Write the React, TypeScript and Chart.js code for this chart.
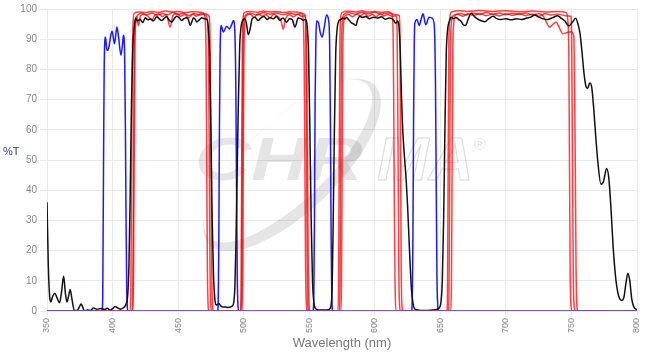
import { useEffect, useRef } from 'react';
import { Chart, registerables } from 'chart.js';

Chart.register(...registerables);

// ---- Data (wavelength nm, %T) ----
const xTicksMin = 350;
const xTicksMax = 800;
const yTicksMax = 100;

const blackCurve: [number, number][] = [
  [350, 36], [351, 15], [352, 5], [353, 3], [354, 4.5], [356, 5.8], [358, 4], [359.6, 2.7], [361, 6], [362.7, 11.5],
  [364, 6], [365.2, 3], [366.5, 5], [367.7, 7.1], [369, 4], [370.8, 0.3], [373, 0.2], [374.5, 1.2], [376, 2.3], [377.5, 1],
  [378.4, 0], [381, 0.3], [383, 0.2], [385.6, 1], [388, 0.6], [391, 0.8], [394, 0.5], [396, 0.9], [398, 0.3], [400, 0.8],
  [402, 1.5], [404, 1], [406, 0.6], [408, 1], [410, 2], [411.5, 5], [412.5, 15], [413.5, 40], [414.5, 70], [415.5, 88],
  [416.5, 94], [417.5, 96.9], [419, 96], [421, 96.6], [423, 95.5], [424.9, 97.1], [427, 96.4], [429, 96.8], [431, 96],
  [433.8, 97.4], [435.5, 96.8], [437.6, 96.2], [439.5, 97], [441.4, 97.4], [443, 96.4], [445.2, 95.7], [447, 96.8],
  [449, 97.6], [451, 97], [452.8, 96.2], [454.5, 96.8], [456.6, 97.1], [458, 96.3], [459.1, 94.5], [460.5, 95.8],
  [461.7, 97.1], [463, 96.6], [464.2, 95.7], [466, 96.3], [468, 97.1], [470, 96.8], [471.9, 96.6], [473, 94], [474, 85],
  [475, 60], [476, 30], [477, 12], [478, 4], [479, 2], [480, 2.2], [481, 2.5], [482, 2], [483, 1.5], [484, 1.3], [486, 1.3],
  [488, 1.2], [490, 1.3], [491.5, 1.8], [492.5, 3], [493.3, 8], [494, 20], [495, 45], [496, 70], [497, 88], [498, 94],
  [499, 96], [500.5, 96.8], [502, 95.5], [503.5, 91.5], [505, 93.5], [506.5, 96.8], [508.5, 97.3], [511, 96.2], [513, 97],
  [515.5, 97.5], [518, 96.5], [520, 97.2], [522.5, 96.8], [525, 97.5], [527.5, 96.3], [530, 97], [532.7, 95.6], [535, 96.8],
  [537, 96.5], [539.1, 94], [541.6, 97], [543.5, 96.8], [545.5, 96.3], [547, 96.5], [548.5, 94], [549.5, 85], [550.5, 60],
  [551.5, 30], [552.5, 10], [553.5, 3], [554.5, 1], [556, 0.5], [558, 0.3], [562, 0.3], [565, 0.5], [566.5, 1.5],
  [567.5, 8], [568.3, 30], [569.2, 60], [570.2, 85], [571.2, 93], [572.5, 96], [574, 96.5], [575.5, 97], [577.2, 96.7],
  [578.5, 97.3], [580, 96.5], [582, 95.5], [584, 95], [585.6, 94.5], [587, 96.5], [588.6, 97.6], [590.5, 97.2], [593, 97.5],
  [596, 96.8], [599, 97.3], [602, 97], [605, 97.4], [608, 96.6], [611, 97], [614, 96.5], [616, 95.3], [617.5, 96],
  [618.5, 94], [619.5, 85], [620.3, 72], [621, 63], [622, 55], [623, 49], [624, 43], [625, 35], [626, 25], [627, 15],
  [628, 7], [629, 3], [630, 1], [632, 0.4], [636, 0.2], [640, 0.2], [644, 0.3], [647, 0.5], [649, 1], [650.5, 3],
  [651.5, 10], [652.5, 30], [653.5, 60], [654.5, 85], [655.5, 93], [657, 96], [658.4, 97.3], [660, 96.8], [662, 97.2],
  [664, 96.5], [666, 95.8], [667.5, 94.8], [669.3, 94.5], [671, 96.3], [673.6, 98.6], [676, 97.5], [678, 96.8], [680, 96.3],
  [683.8, 95.8], [687, 96.8], [690.2, 97.6], [693, 96.8], [696, 96.5], [700, 96.8], [704, 96.4], [708, 96.8], [712, 96.5],
  [716, 97], [719, 97.3], [722, 98], [725, 97.3], [728, 96.8], [731, 96.5], [733.3, 96.7], [736, 97.2], [739.5, 97.8],
  [742, 97], [745, 96], [748, 94.4], [750.5, 95.5], [753.2, 96.9], [755, 95], [756.5, 92], [758, 86], [759.5, 79],
  [761, 74.5], [762.3, 73.7], [764, 75.5], [765.5, 74], [767, 67], [768.5, 58], [770, 50], [772.5, 42], [774.5, 43],
  [776.8, 47.2], [778.5, 44], [780, 35], [782, 20], [784, 10], [786.6, 4.2], [788.5, 3.5], [790, 4.5], [791.5, 9],
  [793, 12.4], [794.5, 10], [796, 4], [798, 1], [800, 0.5],
];

const blueCurve: [number, number][] = [
  [350, 0], [392, 0], [392.5, 5], [393, 40], [393.6, 80], [394.6, 90.7], [395.5, 87], [396.2, 86.3], [397.5, 88],
  [398.5, 91], [399.7, 92.6], [401.5, 88.5], [403.3, 94], [404.5, 91], [406.4, 84.7], [407.5, 88], [408.3, 91.3],
  [409.2, 85], [409.8, 60], [410.3, 30], [410.8, 8], [411.3, 1], [412, 0],
  [480, 0], [480.6, 3], [481, 20], [481.5, 60], [482, 85], [482.8, 94.5], [484.5, 92.4], [487.1, 94.3], [489.1, 93.4],
  [491, 95], [492.1, 96.2], [493.2, 93], [494, 75], [494.6, 40], [495.1, 12], [495.6, 2], [496.3, 0],
  [552.8, 0], [553.5, 5], [554, 30], [554.5, 70], [555.1, 90], [555.6, 96], [557, 95.5], [558.5, 92], [559.9, 90.7],
  [561.5, 94], [563.2, 98], [564.7, 96.5], [565.6, 88], [566.2, 60], [566.7, 25], [567.2, 5], [568, 0],
  [628, 0], [628.6, 4], [629.1, 25], [629.6, 65], [630.1, 88], [630.5, 95.1], [632.3, 96.5], [633.8, 94.5], [635.3, 96.5],
  [636.8, 98.4], [638.9, 94.8], [641.4, 97.3], [643.5, 97], [645.3, 95], [646.3, 75], [646.9, 40], [647.4, 12], [648, 2],
  [648.6, 0], [800, 0],
];

const redCurveA: [number, number][] = [
  [350, 0], [413.5, 0], [414, 10], [414.5, 45], [415, 80], [415.6, 95], [416.5, 98.6], [420, 99], [425, 98.8], [430, 99.2],
  [435, 98.9], [440, 99.3], [445, 99], [450, 99.2], [455, 98.8], [460, 99.1], [465, 99], [469, 98.8], [470.5, 97],
  [471.3, 85], [471.8, 50], [472.3, 15], [472.8, 3], [473.5, 0],
  [497.5, 0], [498, 8], [498.5, 50], [499, 88], [499.6, 97], [500.5, 98.8], [505, 99.2], [510, 98.9], [515, 99.3],
  [520, 99], [525, 99.2], [530, 98.8], [535, 99.1], [540, 99], [544, 98.7], [545.5, 96], [546.2, 80], [546.7, 50],
  [547.2, 15], [547.8, 2], [548.5, 0],
  [572, 0], [572.4, 10], [572.9, 50], [573.4, 88], [574, 97], [575, 98.8], [580, 99.3], [585, 99], [590, 99.4], [595, 99],
  [600, 99.2], [605, 98.9], [610, 99.1], [613, 98.5], [614, 92], [614.5, 65], [615, 30], [615.5, 8], [616.2, 0],
  [655, 0], [655.5, 8], [656, 50], [656.5, 88], [657.2, 97], [658.5, 99], [665, 99.4], [670, 99.2], [680, 99.5],
  [690, 99.2], [700, 99.4], [710, 99.1], [720, 99.3], [730, 99], [740, 99.2], [746, 98.8], [747.3, 96], [748, 85],
  [748.5, 50], [749, 15], [749.6, 2], [750.5, 0], [800, 0],
];

const redCurveB: [number, number][] = [
  [350, 0], [415, 0], [415.5, 10], [416, 50], [416.5, 85], [417.2, 95], [418.3, 97.5], [419.8, 94.5], [421.3, 97.8],
  [424, 98.3], [427, 97.6], [430, 96.3], [432, 97.8], [435, 98.4], [438, 97.5], [441, 98.2], [443.9, 94], [446, 97.8],
  [449, 98.5], [452, 97.6], [455, 98.2], [458, 97], [461, 98.3], [464, 97.6], [467, 98.4], [471, 98], [472.6, 95],
  [473.3, 80], [473.8, 50], [474.3, 15], [474.9, 2], [475.6, 0],
  [498.8, 0], [499.2, 10], [499.7, 50], [500.2, 85], [500.8, 95], [502, 97.8], [505, 98.3], [508, 97.2], [511, 98.4],
  [514, 97.6], [517, 98.2], [520, 97], [523, 98.3], [526, 97.5], [528.5, 96], [530.2, 93.3], [532, 96.8], [535, 98.1],
  [538, 97.4], [541, 98.3], [544, 97.6], [546.8, 97.8], [547.6, 92], [548.2, 75], [548.7, 50], [549.2, 18], [549.8, 3],
  [550.5, 0],
  [574.2, 0], [574.6, 10], [575.1, 50], [575.6, 85], [576.2, 95], [577.5, 97.8], [580, 98.2], [583, 97.4], [586, 98.3],
  [589, 97.8], [592, 98.5], [595, 97.6], [598, 98.2], [601, 97.5], [604, 98.4], [607, 97.7], [610, 98.2], [613, 97.6],
  [616.3, 97.8], [617, 93], [617.4, 75], [617.8, 50], [618.3, 15], [618.9, 2], [619.6, 0],
  [656.3, 0], [656.7, 10], [657.2, 50], [657.7, 85], [658.4, 95], [659.8, 97.8], [663, 98.3], [667, 97.6], [671, 98.4],
  [675, 97.9], [680, 98.5], [685, 97.8], [690, 98.3], [695, 97.7], [700, 98.4], [705, 97.9], [710, 98.5], [715, 97.8],
  [720, 98.3], [725, 97.6], [730, 98.4], [735, 98], [740, 98.3], [745, 97.8], [749.5, 97.6], [750.2, 90], [750.8, 50],
  [751.4, 12], [752, 2], [752.8, 0], [800, 0],
];

const redCurveC: [number, number][] = [
  [350, 0], [415.5, 0], [416, 12], [416.5, 50], [417, 85], [417.7, 95], [419, 97.8], [422, 98.6], [426, 98], [430, 98.7],
  [434, 97.9], [438, 98.5], [442, 98.1], [446, 98.8], [450, 98.2], [454, 98.6], [458, 97.8], [462, 98.5], [466, 98],
  [470, 98.4], [473.8, 97.5], [474.5, 85], [475.1, 50], [475.7, 12], [476.4, 1], [477, 0],
  [498.1, 0], [498.5, 10], [499, 50], [499.5, 85], [500.1, 95], [501.5, 98], [505, 98.6], [510, 98], [515, 98.8],
  [520, 98.3], [525, 98.7], [530, 98.1], [535, 98.6], [540, 98.2], [545, 98.5], [547.1, 97.5], [547.5, 88], [548, 50],
  [548.5, 12], [549.1, 1], [549.8, 0],
  [573.1, 0], [573.5, 10], [574, 50], [574.5, 85], [575.1, 95], [576.5, 98.2], [580, 98.8], [585, 98.3], [590, 98.9],
  [595, 98.4], [600, 98.9], [605, 98.3], [610, 98.7], [615, 98.2], [618.8, 97.8], [619.3, 88], [619.7, 50], [620.2, 12],
  [620.9, 1], [621.5, 0],
  [658, 0], [658.5, 10], [659, 50], [659.5, 85], [660.2, 95], [661.6, 98], [665, 98.5], [670, 98], [675, 98.7],
  [680, 98.2], [685, 98.8], [690, 98.3], [695, 98.7], [700, 98.1], [705, 98.6], [710, 98.2], [715, 98.7], [720, 98.1],
  [725, 98.4], [728.4, 97.7], [730.5, 96], [733.3, 94], [736, 95], [738.4, 95.6], [740.5, 94], [743.4, 91.8],
  [746.5, 92.2], [749.8, 92.5], [751.8, 91], [752.5, 70], [753, 45], [753.5, 15], [754.1, 2], [754.8, 0], [800, 0],
];

const baselineCurve: [number, number][] = [[350, 0], [800, 0]];

const FONT = "'Liberation Sans', Arial, Helvetica, sans-serif";

const watermarkPlugin = {
  id: 'chromaWatermark',
  beforeDatasetsDraw(chart: any) {
    const ctx = chart.ctx as CanvasRenderingContext2D;
    ctx.save();
    ctx.fillStyle = 'rgba(0,0,0,0.10)';
    ctx.strokeStyle = 'rgba(0,0,0,0.12)';
    // swoosh crescent
    const rot = (-43.8 * Math.PI) / 180;
    ctx.beginPath();
    ctx.ellipse(292, 165, 115, 46, rot, 0, Math.PI * 2);
    ctx.ellipse(288, 161, 110, 40, rot, 0, Math.PI * 2);
    ctx.fill('evenodd');
    // CHR filled
    ctx.save();
    ctx.translate(195, 180);
    ctx.scale(1.25, 1);
    ctx.font = `italic bold 62px ${FONT}`;
    ctx.textBaseline = 'alphabetic';
    ctx.fillText('CHR', 0, 0);
    ctx.restore();
    // MA outlined
    ctx.font = `italic bold 62px ${FONT}`;
    ctx.lineWidth = 1.3;
    ctx.strokeText('MA', 377, 180);
    ctx.font = `16px ${FONT}`;
    ctx.fillText('®', 474, 150);
    ctx.restore();
  },
};

const yLabelPlugin = {
  id: 'yLabel',
  afterDraw(chart: any) {
    const ctx = chart.ctx as CanvasRenderingContext2D;
    ctx.save();
    ctx.font = `11px ${FONT}`;
    ctx.fillStyle = '#34466b';
    ctx.textAlign = 'left';
    ctx.textBaseline = 'middle';
    ctx.fillText('%T', 3, 152);
    ctx.restore();
  },
};

export default function App() {
  const ref = useRef<HTMLCanvasElement>(null);
  useEffect(() => {
    document.body.style.margin = '0';
    const toPts = (a: [number, number][]) => a.map(([x, y]) => ({ x, y }));
    const ds = (label: string, data: [number, number][], color: string, width: number, order: number) => ({
      label,
      data: toPts(data),
      borderColor: color,
      backgroundColor: color,
      borderWidth: width,
      pointRadius: 0,
      cubicInterpolationMode: 'monotone' as const,
      fill: false,
      order,
    });
    const chart = new Chart(ref.current as HTMLCanvasElement, {
      type: 'line',
      data: {
        datasets: [
          ds('baseline', baselineCurve, 'rgba(150,90,190,0.9)', 1.5, 0),
          ds('Measured', blackCurve, '#111111', 1.5, 1),
          ds('Excitation', blueCurve, '#1a1aff', 1.5, 2),
          ds('Emission A', redCurveA, 'rgba(255,0,0,0.75)', 1.5, 3),
          ds('Emission B', redCurveB, 'rgba(255,0,0,0.75)', 1.5, 4),
          ds('Emission C', redCurveC, 'rgba(255,0,0,0.75)', 1.5, 5),
        ] as any,
      },
      options: {
        animation: false,
        responsive: true,
        maintainAspectRatio: false,
        layout: { padding: { top: 7, right: 15, left: 0, bottom: 0 } },
        plugins: { legend: { display: false }, tooltip: { enabled: false } },
        scales: {
          x: {
            type: 'linear',
            min: xTicksMin,
            max: xTicksMax,
            ticks: {
              stepSize: 50,
              minRotation: 90,
              maxRotation: 90,
              color: '#888',
              font: { size: 9, family: FONT },
              padding: 3,
            },
            grid: { color: '#e9e9e9', tickLength: 4 },
            border: { color: '#e9e9e9' },
            title: {
              display: true,
              text: 'Wavelength (nm)',
              color: '#777',
              font: { size: 13, family: FONT },
              padding: { top: 2, bottom: 3 },
            },
            afterFit: (s: any) => {
              s.height = 43;
            },
          },
          y: {
            min: 0,
            max: yTicksMax,
            ticks: { stepSize: 10, color: '#888', font: { size: 10, family: FONT }, padding: 3 },
            grid: { color: '#e9e9e9', tickLength: 7 },
            border: { color: '#e9e9e9' },
            afterFit: (s: any) => {
              s.width = 47;
            },
          },
        },
      } as any,
      plugins: [watermarkPlugin, yLabelPlugin],
    });
    return () => chart.destroy();
  }, []);
  return (
    <div style={{ width: 652, height: 354, position: 'relative' }}>
      <canvas ref={ref} />
    </div>
  );
}
